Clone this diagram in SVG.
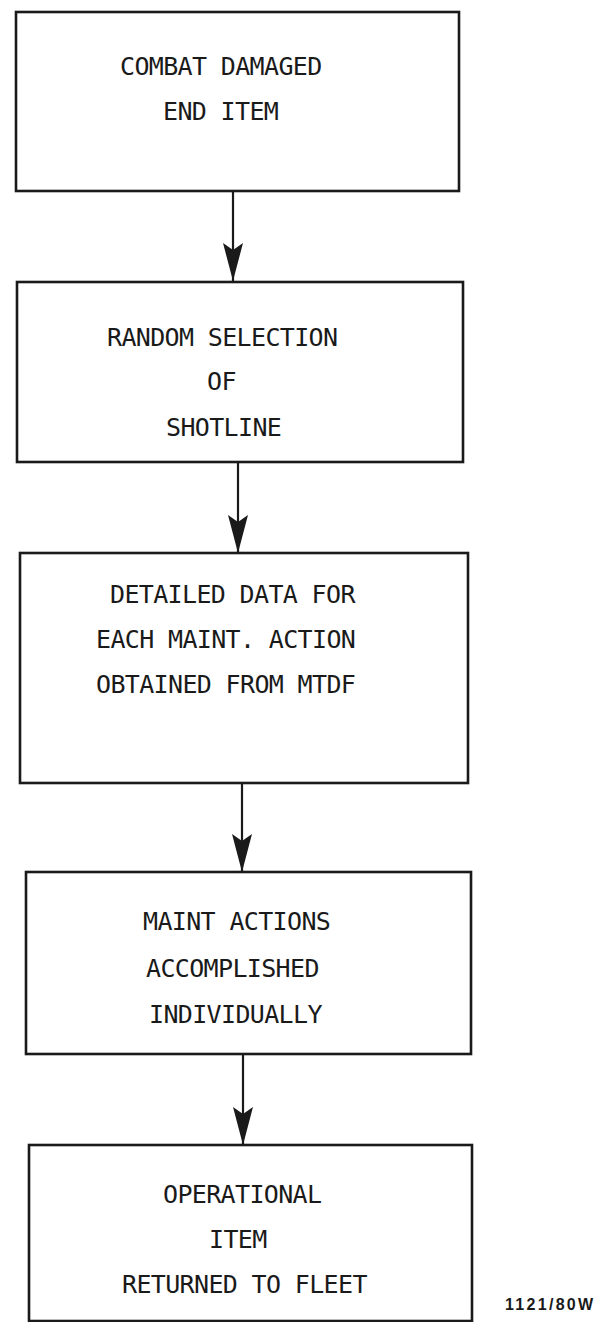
<svg xmlns="http://www.w3.org/2000/svg" width="596" height="1322" viewBox="0 0 596 1322">
<style>
.box{fill:#ffffff;stroke:#1a1a1a;stroke-width:2.6}
.lbl{font-family:"DejaVu Sans Mono","Liberation Mono",monospace;font-size:25px;letter-spacing:-0.65px;fill:#1a1a1a}
.conn{stroke:#1a1a1a;stroke-width:2.2;fill:none;marker-end:url(#ah)}
.code{font-family:"Liberation Sans",Arial,sans-serif;font-weight:bold;font-size:16px;fill:#1a1a1a;letter-spacing:2.3px}
</style>
<defs>
<marker id="ah" markerUnits="userSpaceOnUse" markerWidth="40" markerHeight="24" viewBox="-40 -12 40 24" refX="0" refY="0" orient="auto" overflow="visible">
<path d="M0,0 L-38,-10 L-31,0 L-38,10 Z" fill="#1a1a1a"/>
</marker>
</defs>
<rect width="596" height="1322" fill="#ffffff"/>
<g id="connectors">
<line class="conn" x1="233" y1="192" x2="233" y2="281"/>
<line class="conn" x1="238" y1="463" x2="238" y2="553"/>
<line class="conn" x1="242" y1="784" x2="242" y2="872"/>
<line class="conn" x1="243" y1="1055" x2="243" y2="1145"/>
</g>
<g id="node1">
<rect class="box" x="16" y="12" width="443" height="179"/>
<text class="lbl" x="120" y="75">COMBAT DAMAGED</text>
<text class="lbl" x="163" y="120">END ITEM</text>
</g>
<g id="node2">
<rect class="box" x="17" y="282" width="446" height="180"/>
<text class="lbl" x="107" y="346">RANDOM SELECTION</text>
<text class="lbl" x="207" y="390">OF</text>
<text class="lbl" x="166" y="436">SHOTLINE</text>
</g>
<g id="node3">
<rect class="box" x="20" y="553" width="448" height="230"/>
<text class="lbl" x="110" y="603">DETAILED DATA FOR</text>
<text class="lbl" x="96" y="648">EACH MAINT. ACTION</text>
<text class="lbl" x="96" y="693">OBTAINED FROM MTDF</text>
</g>
<g id="node4">
<rect class="box" x="26" y="872" width="445" height="182"/>
<text class="lbl" x="143" y="930">MAINT ACTIONS</text>
<text class="lbl" x="146" y="977">ACCOMPLISHED</text>
<text class="lbl" x="149" y="1023">INDIVIDUALLY</text>
</g>
<g id="node5">
<rect class="box" x="29" y="1145" width="443" height="176"/>
<text class="lbl" x="163" y="1203">OPERATIONAL</text>
<text class="lbl" x="209" y="1248">ITEM</text>
<text class="lbl" x="122" y="1293">RETURNED TO FLEET</text>
</g>
<text class="code" x="505" y="1310">1121/80W</text>
</svg>
